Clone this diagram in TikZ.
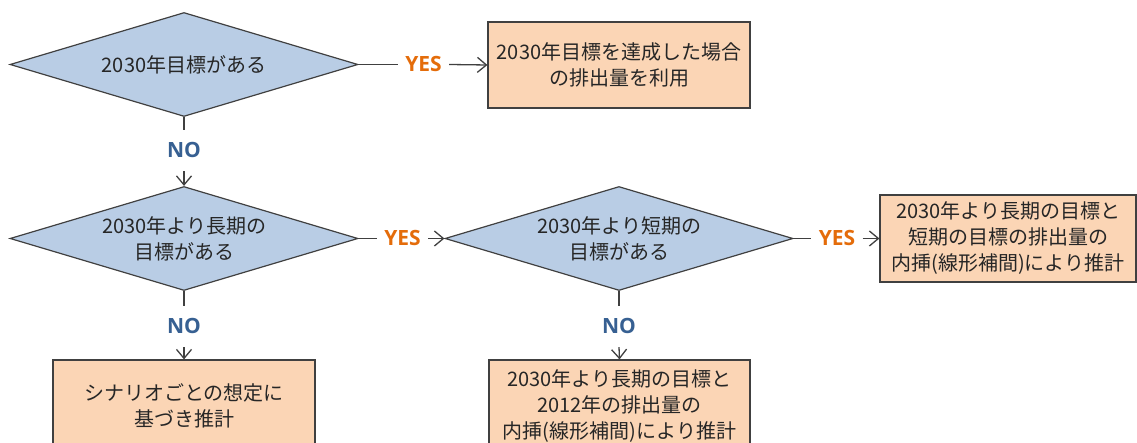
\documentclass[tikz,border=0pt]{standalone}
\usepackage{fontspec}
\setmainfont{Noto Sans CJK JP}
\newfontfamily\labelfont{Open Sans}
\usetikzlibrary{shapes.geometric,arrows.meta}
\definecolor{dfill}{HTML}{B9CDE5}
\definecolor{bfill}{HTML}{FBD5B5}
\definecolor{edge}{HTML}{404040}
\definecolor{yescol}{HTML}{E46C0A}
\definecolor{nocol}{HTML}{376092}
\definecolor{txt}{HTML}{262626}
\tikzset{
  decision/.style={shape=diamond, aspect=3.346, draw=edge, fill=dfill, line width=1.2pt, minimum width=348pt, minimum height=104pt, inner sep=0pt, align=center, text=txt, font=\fontsize{20}{26}\selectfont},
  result/.style={shape=rectangle, draw=edge, fill=bfill, line width=1.2pt, inner sep=0pt, align=center, text=txt, font=\fontsize{20}{26}\selectfont},
  yeslab/.style={inner sep=0pt, minimum width=51pt, text height=15pt, text depth=0pt, text=yescol, font=\labelfont\bfseries\fontsize{21}{24}\selectfont},
  nolab/.style={inner sep=0pt, minimum height=41pt, text height=15pt, text depth=0pt, text=nocol, font=\labelfont\bfseries\fontsize{21}{24}\selectfont},
  conn/.style={draw=edge, line width=1.3pt},
  arr/.style={conn, -{Straight Barb[length=9pt,width=15pt,line width=1.3pt]}}
}
\begin{document}
\begin{tikzpicture}[x=1pt,y=-1pt]
\useasboundingbox (0,0) rectangle (1137,443);
\clip (0,0) rectangle (1137,443);
% decisions
\node[decision] (d1) at (184,64.5) {2030年目標がある};
\node[decision] (d2) at (184,238.5) {2030年より長期の\\目標がある};
\node[decision] (d3) at (619,238.5) {2030年より短期の\\目標がある};
% results
\node[result, minimum width=262pt, minimum height=86pt] (b1) at (619,65) {2030年目標を達成した場合\\の排出量を利用};
\node[result, minimum width=256pt, minimum height=87pt] (b3) at (1008,238.5) {2030年より長期の目標と\\短期の目標の排出量の\\内挿(線形補間)により推計};
\node[result, minimum width=262pt, minimum height=92pt] (b2) at (184,406) {シナリオごとの想定に\\基づき推計};
\node[result, minimum width=261pt, minimum height=92pt] (b4) at (619.5,406) {2030年より長期の目標と\\2012年の排出量の\\内挿(線形補間)により推計};
% labels
\node[yeslab] (y1) at (423.5,64.5) {YES};
\node[yeslab] (y2) at (402.5,238.5) {YES};
\node[yeslab] (y3) at (837,238.5) {YES};
\node[nolab] (n1) at (184,150.5) {NO};
\node[nolab] (n2) at (184,326.5) {NO};
\node[nolab] (n3) at (619,326.5) {NO};
% connectors
\draw[conn] (d1.east) -- (y1.west);
\draw[arr] (y1.east) -- (b1.west);
\draw[conn] (d1.south) -- (n1.north);
\draw[arr] (n1.south) -- (d2.north);
\draw[conn] (d2.east) -- (y2.west);
\draw[arr] (y2.east) -- (d3.west);
\draw[conn] (d3.east) -- (y3.west);
\draw[arr] (y3.east) -- (b3.west);
\draw[conn] (d2.south) -- (n2.north);
\draw[arr] (n2.south) -- (b2.north);
\draw[conn] (d3.south) -- (n3.north);
\draw[arr] (n3.south) -- (b4.north);
\end{tikzpicture}
\end{document}
